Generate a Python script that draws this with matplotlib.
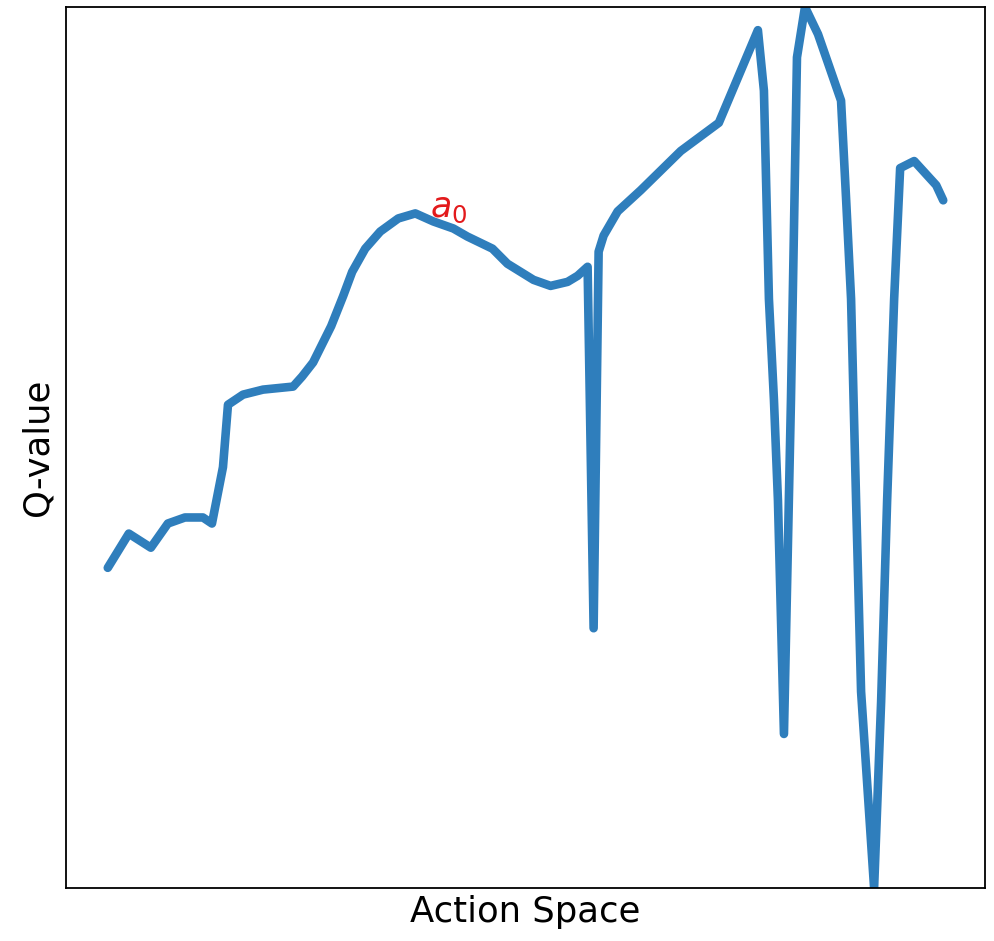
import matplotlib
matplotlib.use("Agg")
import matplotlib.pyplot as plt
import numpy as np

# Action positions (arbitrary units) and Q-values
actions = [108, 129, 151, 168, 185, 203, 212, 223, 228, 243, 263, 293, 302, 313,
           331, 343, 352, 365, 380, 398, 415, 433, 453, 467, 492, 507, 520, 533,
           550, 567, 577, 587, 593, 598, 603, 617, 640, 680, 718, 757, 763, 768,
           773, 777, 783, 790, 796, 804, 817, 840, 845, 850, 855, 860, 873, 880,
           886, 893, 899, 913, 935, 942]
q_pixels = [567, 533, 547, 523, 517, 517, 523, 467, 405, 395, 390, 387, 377, 363,
            327, 297, 273, 250, 233, 220, 215, 223, 230, 238, 250, 265, 273, 281,
            287, 283, 277, 268, 627, 253, 237, 213, 192, 153, 125, 33, 93, 300,
            400, 500, 732, 400, 60, 10, 37, 103, 200, 300, 500, 690, 885, 700,
            500, 300, 170, 163, 187, 202]
q_values = [888 - p for p in q_pixels]

anchor_label = "$a_0$"
anchor_action = 448
anchor_q = 888 - 210

fig = plt.figure(figsize=(9.95, 9.41), dpi=100)
ax = fig.add_axes([66 / 995, 53 / 941, (985 - 66) / 995, (888 - 7) / 941])

ax.plot(actions, q_values, color="#2f7ebc", linewidth=6.2,
        solid_capstyle="round", solid_joinstyle="round")
ax.margins(x=0.05, y=0)
ax.set_ylim(min(q_values), max(q_values))

ax.text(anchor_action, anchor_q, anchor_label, color="#e31a1c", fontsize=25,
        ha="center", va="center")

ax.set_xticks([])
ax.set_yticks([])
for s in ax.spines.values():
    s.set_linewidth(1.3)
    s.set_color("black")

ax.set_xlabel("Action Space", fontsize=25.5, labelpad=5)
ax.set_ylabel("Q-value", fontsize=25.5, labelpad=8)

fig.savefig("out.png", dpi=100)
